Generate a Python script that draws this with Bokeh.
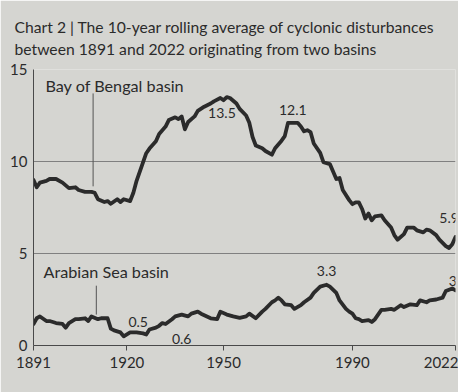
from bokeh.plotting import figure
from bokeh.models import ColumnDataSource, FixedTicker, Title, Label
from bokeh.embed import file_html
from bokeh.resources import INLINE

# 10-year rolling average of cyclonic disturbances, Bay of Bengal basin
bob_years = [1891, 1892, 1893, 1895, 1896, 1898, 1900, 1901, 1902, 1904, 1905, 1907,
             1909, 1910, 1911, 1913, 1914, 1915, 1917, 1918, 1919, 1921, 1922, 1923,
             1924, 1925, 1926, 1927, 1929, 1930, 1932, 1933, 1935, 1936, 1937, 1938,
             1939, 1941, 1942, 1944, 1946, 1947, 1949, 1950, 1951, 1952, 1954, 1955,
             1957, 1958, 1959, 1960, 1962, 1963, 1965, 1966, 1968, 1969, 1970, 1971,
             1973, 1974, 1975, 1976, 1977, 1978, 1980, 1981, 1983, 1984, 1985, 1986,
             1987, 1989, 1990, 1991, 1992, 1993, 1994, 1995, 1996, 1997, 1999, 2000,
             2002, 2003, 2004, 2006, 2007, 2009, 2010, 2012, 2013, 2014, 2016, 2017,
             2019, 2020, 2021, 2022]
bob_values = [9.0, 8.6, 8.85, 8.95, 9.05, 9.05, 8.85, 8.7, 8.55, 8.6, 8.45, 8.35,
              8.35, 8.3, 7.95, 7.8, 7.85, 7.7, 7.95, 7.8, 7.95, 7.85, 8.3, 8.95,
              9.45, 9.95, 10.45, 10.7, 11.1, 11.5, 11.9, 12.25, 12.4, 12.3, 12.45, 11.75,
              12.15, 12.45, 12.75, 12.98, 13.15, 13.27, 13.45, 13.33, 13.5, 13.45, 13.15, 12.86,
              12.5, 12.1, 11.33, 10.87, 10.72, 10.57, 10.37, 10.72, 11.13, 11.38, 12.1, 12.1,
              12.1, 11.9, 11.64, 11.7, 11.6, 10.98, 10.47, 9.96, 9.86, 9.45, 9.05, 9.1,
              8.45, 7.9, 7.68, 7.78, 7.78, 7.42, 6.9, 7.17, 6.8, 7.02, 7.07, 6.81,
              6.41, 6.0, 5.75, 6.05, 6.41, 6.41, 6.26, 6.15, 6.3, 6.26, 6.0, 5.75,
              5.4, 5.3, 5.5, 5.9]

# 10-year rolling average of cyclonic disturbances, Arabian Sea basin
arb_years = [1891, 1892, 1893, 1895, 1896, 1898, 1900, 1901, 1902, 1904, 1905, 1907,
             1908, 1909, 1911, 1912, 1914, 1915, 1916, 1918, 1919, 1921, 1923, 1925,
             1926, 1927, 1929, 1930, 1931, 1932, 1934, 1935, 1937, 1939, 1940, 1942,
             1943, 1946, 1948, 1949, 1951, 1953, 1955, 1957, 1958, 1960, 1962, 1963,
             1965, 1966, 1967, 1968, 1969, 1971, 1972, 1974, 1975, 1977, 1978, 1980,
             1982, 1983, 1985, 1986, 1988, 1989, 1990, 1991, 1992, 1993, 1995, 1996,
             1997, 1999, 2000, 2002, 2003, 2005, 2006, 2008, 2010, 2011, 2013, 2014,
             2016, 2018, 2019, 2021, 2022]
arb_values = [1.17, 1.48, 1.58, 1.33, 1.33, 1.22, 1.17, 0.97, 1.22, 1.43, 1.43, 1.48,
              1.33, 1.58, 1.43, 1.48, 1.48, 0.92, 0.82, 0.71, 0.5, 0.71, 0.71, 0.66,
              0.6, 0.87, 0.97, 1.07, 1.22, 1.17, 1.43, 1.58, 1.68, 1.58, 1.73, 1.84,
              1.73, 1.48, 1.43, 1.84, 1.68, 1.58, 1.5, 1.58, 1.73, 1.48, 1.84, 1.99,
              2.35, 2.45, 2.6, 2.45, 2.24, 2.19, 1.99, 2.19, 2.35, 2.6, 2.86, 3.2,
              3.3, 3.2, 2.86, 2.45, 1.99, 1.84, 1.73, 1.48, 1.43, 1.33, 1.38, 1.28,
              1.43, 1.94, 1.94, 1.99, 1.94, 2.19, 2.09, 2.24, 2.19, 2.45, 2.35, 2.45,
              2.5, 2.6, 2.96, 3.1, 3.0]

x_ticks = [1891, 1920, 1950, 1990, 2022]
y_ticks = [0, 5, 10, 15]

title_lines = ["Chart 2 | The 10-year rolling average of cyclonic disturbances",
               "between 1891 and 2022 originating from two basins"]

PAPER = "#d5d5d1"
INK = "#2b2b2b"
FONT = "Lato"

p = figure(width=458, height=392, x_range=(1891, 2022), y_range=(0, 15),
           output_backend="svg", toolbar_location=None,
           min_border_left=33, min_border_right=3, min_border_top=69,
           min_border_bottom=47)
p.background_fill_color = PAPER
p.border_fill_color = PAPER
p.outline_line_color = None

# two-line heading in a single title block
p.add_layout(Title(text="\n".join(title_lines), align="left", offset=-19,
                   text_font=FONT, text_font_size="15.7px",
                   text_font_style="normal", text_color=INK,
                   text_line_height=1.2, standoff=23), "above")

# axes
p.xaxis.ticker = FixedTicker(ticks=x_ticks)
p.yaxis.ticker = FixedTicker(ticks=y_ticks)
for ax in (p.xaxis, p.yaxis):
    ax.axis_line_color = "#4a4a4a"
    ax.axis_line_width = 1
    ax.major_label_text_font = FONT
    ax.major_label_text_font_size = "15px"
    ax.major_label_text_color = INK
    ax.minor_tick_line_color = None
    ax.major_tick_line_color = "#4a4a4a"
p.xaxis.major_tick_out = 5
p.xaxis.major_tick_in = 0
p.xaxis.major_label_standoff = 6
p.yaxis.major_tick_out = 0
p.yaxis.major_tick_in = 0
p.yaxis.major_label_standoff = 6

p.xgrid.grid_line_color = None
p.ygrid.grid_line_color = "#808080"
p.ygrid.grid_line_width = 1

# the two basin series
bob = ColumnDataSource(dict(year=bob_years, value=bob_values))
arb = ColumnDataSource(dict(year=arb_years, value=arb_values))
for src in (bob, arb):
    p.line("year", "value", source=src, line_color=INK, line_width=3.8,
           line_join="round", line_cap="round")

# series names with leader lines down to the curves
def value_at(years, values, yr):
    return values[min(range(len(years)), key=lambda i: abs(years[i] - yr))]

lead_bob, lead_arb = 1909.5, 1910.5
p.segment(x0=[lead_bob, lead_arb], y0=[13.7, 3.25],
          x1=[lead_bob, lead_arb],
          y1=[value_at(bob_years, bob_values, lead_bob) + 0.3,
              value_at(arb_years, arb_values, lead_arb) + 0.25],
          line_color="#555555", line_width=1)

def note(text, x, y, align="left", size="14px"):
    p.add_layout(Label(x=x, y=y, text=text, text_align=align,
                       text_baseline="middle", text_font=FONT,
                       text_font_size=size, text_color=INK))

note("Bay of Bengal basin", 1894.7, 14.15, size="16.2px")
note("Arabian Sea basin", 1894.1, 4.0, size="16.2px")

# value call-outs taken from the series
i_peak = bob_values.index(max(bob_values))
note(f"{bob_values[i_peak]:g}", bob_years[i_peak] - 1.5, bob_values[i_peak] - 0.85, "center")
later = [i for i, yr in enumerate(bob_years) if 1965 <= yr <= 1980]
i_second = max(later, key=lambda i: bob_values[i])
note(f"{bob_values[i_second]:g}", bob_years[i_second] + 1.5, bob_values[i_second] + 0.7, "center")
note(f"{bob_values[-1]:g}", bob_years[-1] - 2, bob_values[-1] + 1.05, "center")

i_apeak = arb_values.index(max(arb_values))
note(f"{arb_values[i_apeak]:g}", arb_years[i_apeak], arb_values[i_apeak] + 0.75, "center")
note(f"{arb_values[-1]:g}", arb_years[-1] - 0.8, arb_values[-1] + 0.5, "center")
i_amin = arb_values.index(min(arb_values))
note(f"{arb_values[i_amin]:g}", arb_years[i_amin] + 4.5, arb_values[i_amin] + 0.8, "center")
early = [i for i, yr in enumerate(arb_years) if 1922 <= yr <= 1930]
i_amin2 = min(early, key=lambda i: arb_values[i])
note(f"{arb_values[i_amin2]:g}", arb_years[i_amin2] + 11, arb_values[i_amin2] - 0.27, "center")

open("out.html", "w").write(file_html(p, INLINE))
